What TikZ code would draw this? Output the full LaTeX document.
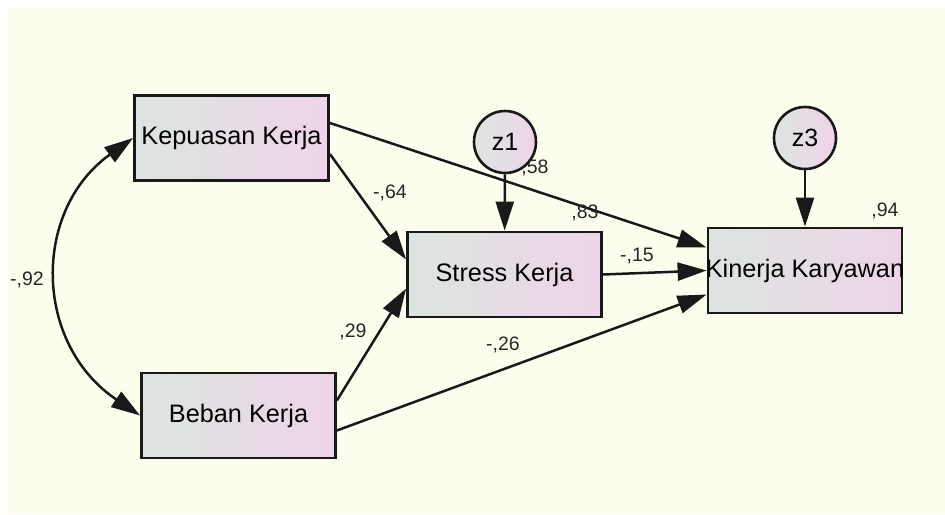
\documentclass[tikz,border=0pt]{standalone}
\usepackage{fontspec}
\setmainfont{Liberation Sans}
\usetikzlibrary{arrows.meta,calc}
\definecolor{bgcream}{RGB}{253,255,238}
\definecolor{boxleft}{RGB}{220,229,224}
\definecolor{boxright}{RGB}{238,212,233}
\definecolor{edge}{RGB}{25,25,25}
\begin{document}
\begin{tikzpicture}[x=1pt,y=-1pt,
  varbox/.style={draw=edge,line width=2.8pt,left color=boxleft,right color=boxright,
    minimum width=194pt,minimum height=85pt,inner sep=0pt,
    font=\fontsize{25.3}{29}\selectfont},
  errcirc/.style={circle,draw=edge,line width=2.6pt,left color=boxleft,right color=boxright,
    minimum size=62pt,inner sep=0pt,font=\fontsize{25}{29}\selectfont},
  path/.style={line width=2.5pt,draw=edge,-{Triangle[length=29pt,width=18pt]}},
  coef/.style={font=\fontsize{19.5}{22}\selectfont,inner sep=0pt,text=black!85}
]
\useasboundingbox (0,0) rectangle (945,514);
\fill[white] (0,0) rectangle (945,514);
\fill[bgcream] (7,7) rectangle (945,514);

\node[varbox] (kep) at (231.5,138) {\makebox[0pt]{Kepuasan Kerja}};
\node[varbox] (beb) at (238.5,415.5) {\makebox[0pt]{Beban Kerja}};
\node[varbox] (str) at (504.5,274.5) {\makebox[0pt]{Stress Kerja}};
\node[varbox] (kin) at (805,270.5) {\makebox[0pt]{Kinerja Karyawan}};
\node[errcirc] (z1) at (505,142) {z1};
\node[errcirc] (z3) at (805,138) {z3};

\draw[line width=2.5pt,draw=edge,{Triangle[length=29pt,width=18pt]}-{Triangle[length=29pt,width=18pt]}]
  (kep.west) .. controls +(-101,72) and +(-107,-72) .. (beb.west);

\draw[path] ([yshift=15pt]kep.east) -- ([yshift=23pt]kin.west);
\draw[path] ([yshift=-16pt]kep.east) -- ([yshift=15pt]str.west);
\draw[path] ([yshift=15pt]beb.east) -- ([yshift=-14pt]str.west);
\draw[path] ([yshift=-15pt]beb.east) -- ([yshift=-24pt]kin.west);
\draw[path] (str.east) -- (kin.west);
\draw[path] (z1) -- (str);
\draw[path] (z3) -- (kin);

\node[coef] (l58) at (535,168) {,58};
\node[coef] (l83) at (585,213) {,83};
\node[coef] (l64) at (390,193) {-,64};
\node[coef] (l29) at (353,332) {,29};
\node[coef] (l26) at (503,345) {-,26};
\node[coef] (l15) at (637,256) {-,15};
\node[coef] (l94) at (885,211) {,94};
\node[coef] (l92) at (27,280) {-,92};
\end{tikzpicture}
\end{document}
